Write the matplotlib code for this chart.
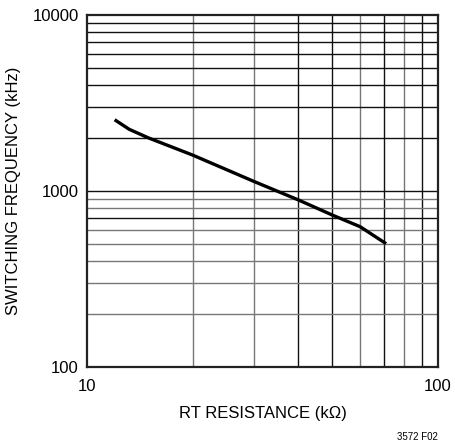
import matplotlib
matplotlib.use('Agg')
from matplotlib import pyplot as plt
from matplotlib import rcParams
import numpy as np

rcParams['font.family'] = ['Liberation Sans Narrow', 'Liberation Sans', 'DejaVu Sans']

# curve data
rt_kohm = [12.1, 13.2, 15.0, 20.0, 30.0, 40.0, 50.0, 60.0, 70.5]
fsw_khz = [2510, 2240, 2000, 1600, 1130, 890, 730, 627, 508]

x_grid = [20, 30, 40, 50, 60, 70, 80, 90]
x_grid_col = ['#777', '#777', '#111', '#111', '#777', '#111', '#777', '#111']
y_grid = [200, 300, 400, 500, 600, 700, 800, 900, 1000,
          2000, 3000, 4000, 5000, 6000, 7000, 8000, 9000]
y_grid_col = ['#777', '#777', '#777', '#777', '#777', '#111', '#777', '#777', '#111',
              '#111', '#111', '#111', '#111', '#111', '#111', '#111', '#111']

fig = plt.figure(figsize=(4.55, 4.47), dpi=100)
a = fig.add_axes([0.1912, 0.179, 0.7714, 0.7874])

a.set_xscale('log')
a.set_yscale('log')
a.set_xlim(10, 100)
a.set_ylim(100, 10000)

for xv, c in zip(x_grid, x_grid_col):
    a.axvline(xv, color=c, linewidth=1.0, zorder=1)
for yv, c in zip(y_grid, y_grid_col):
    a.axhline(yv, color=c, linewidth=1.0, zorder=1)

a.plot(rt_kohm, fsw_khz, color='black', linewidth=2.4, zorder=3)

for s in a.spines.values():
    s.set_linewidth(1.6)
    s.set_color('#222')

a.set_xticks([10, 100])
a.set_xticklabels(['10', '100'])
a.set_yticks([100, 1000, 10000])
a.set_yticklabels(['100', '1000', '10000'])
a.minorticks_off()
a.tick_params(length=0, labelsize=12)
a.tick_params(axis='x', pad=9)
a.tick_params(axis='y', pad=6)

a.set_xlabel('RT RESISTANCE (k\u03a9)', fontsize=12, labelpad=8)
a.set_ylabel('SWITCHING FREQUENCY (kHz)', fontsize=12, labelpad=8)

fig.text(0.962, 0.012, '3572 F02', fontsize=7, ha='right', va='bottom')

fig.savefig('out.png', dpi=100)
